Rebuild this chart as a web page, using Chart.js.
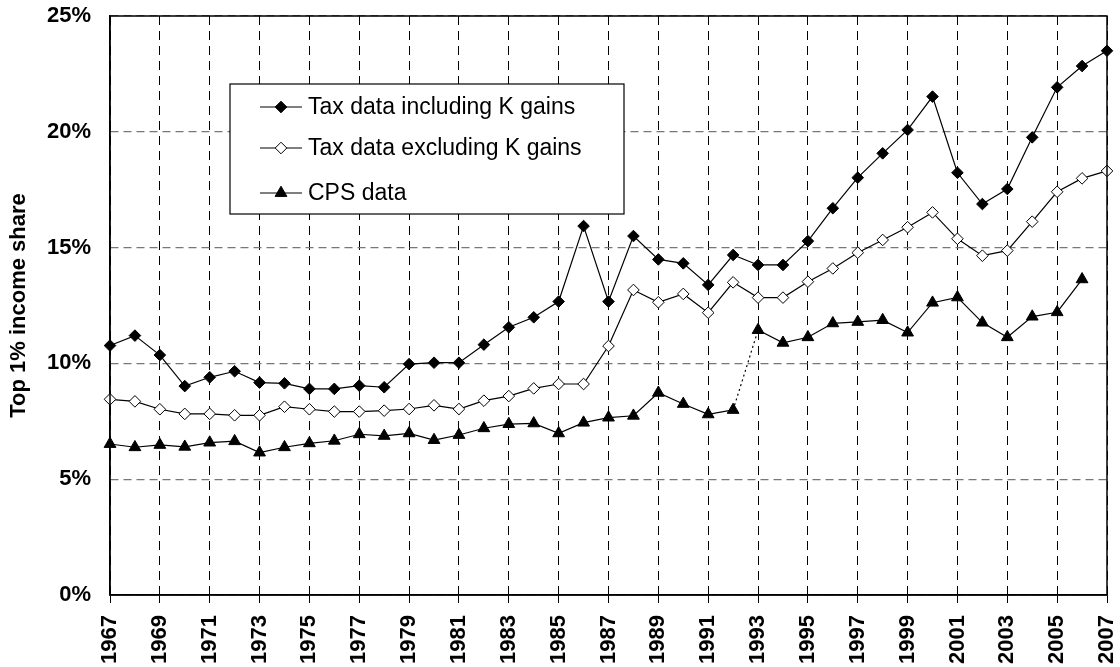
<!DOCTYPE html>
<html>
<head>
<meta charset="utf-8">
<script src="https://cdn.jsdelivr.net/npm/chart.js@4/dist/chart.umd.min.js"></script>
<style>
  html, body { margin: 0; padding: 0; background: #fff; }
  #grafico { display: block; }
</style>
</head>
<body>
<canvas id="grafico" width="1120" height="667"></canvas>
<script>
// datos
const years = [
  "1967", "1968", "1969", "1970", "1971", "1972", "1973", "1974", "1975", "1976",
  "1977", "1978", "1979", "1980", "1981", "1982", "1983", "1984", "1985", "1986",
  "1987", "1988", "1989", "1990", "1991", "1992", "1993", "1994", "1995", "1996",
  "1997", "1998", "1999", "2000", "2001", "2002", "2003", "2004", "2005", "2006",
  "2007"
];
const taxIncl = [
  10.77, 11.2, 10.36, 9.02, 9.4, 9.66, 9.17, 9.14, 8.9, 8.9,
  9.04, 8.97, 9.97, 10.03, 10.03, 10.81, 11.56, 11.99, 12.67, 15.93,
  12.67, 15.5, 14.49, 14.32, 13.39, 14.68, 14.25, 14.25, 15.28, 16.7,
  18.02, 19.07, 20.08, 21.52, 18.23, 16.88, 17.53, 19.76, 21.92, 22.84,
  23.5
];
const taxExcl = [
  8.45, 8.36, 8.02, 7.82, 7.82, 7.76, 7.76, 8.13, 8.02, 7.92,
  7.92, 7.96, 8.03, 8.19, 8.03, 8.39, 8.59, 8.92, 9.11, 9.11,
  10.75, 13.17, 12.64, 13.0, 12.19, 13.5, 12.84, 12.84, 13.53, 14.1,
  14.78, 15.33, 15.88, 16.52, 15.38, 14.65, 14.87, 16.12, 17.41, 17.99,
  18.31
];
const cps = [
  6.52, 6.38, 6.48, 6.4, 6.58, 6.64, 6.15, 6.38, 6.55, 6.66,
  6.94, 6.87, 6.98, 6.69, 6.91, 7.2, 7.38, 7.41, 6.98, 7.44,
  7.66, 7.74, 8.73, 8.25, 7.8, 7.99, 11.44, 10.89, 11.13, 11.73,
  11.79, 11.87, 11.33, 12.62, 12.85, 11.76, 11.13, 12.02, 12.21, 13.63,
  null
];
const seriesNames = ["Tax data including K gains", "Tax data excluding K gains", "CPS data"];
const yTicks = [0, 5, 10, 15, 20, 25];

// el punto donde cambia la serie CPS (1992 -> 1993) va punteado
const cpsBreak = years.indexOf("1992");

Chart.defaults.font.family = "'Liberation Sans', Arial, sans-serif";
Chart.defaults.color = "#000";

// marco alrededor del area del grafico
const marco = {
  id: "marco",
  afterDatasetsDraw(chart) {
    const { ctx, chartArea: a } = chart;
    ctx.save();
    ctx.strokeStyle = "#000";
    ctx.lineWidth = 1.5;
    ctx.strokeRect(a.left, a.top, a.right - a.left, a.bottom - a.top);
    ctx.restore();
  }
};

// leyenda dentro del area, en columna
const leyenda = {
  id: "leyenda",
  afterDraw(chart) {
    const { ctx, chartArea: a } = chart;
    const x0 = a.left + 120, y0 = a.top + 68;
    const w = 394, h = 130;
    ctx.save();
    ctx.fillStyle = "#fff";
    ctx.fillRect(x0, y0, w, h);
    ctx.strokeStyle = "#000";
    ctx.lineWidth = 1.2;
    ctx.strokeRect(x0, y0, w, h);

    const filas = [23, 64, 109];
    chart.data.datasets.forEach((ds, i) => {
      const y = y0 + filas[i];
      ctx.strokeStyle = "#000";
      ctx.lineWidth = 1.2;
      ctx.beginPath();
      ctx.moveTo(x0 + 30, y);
      ctx.lineTo(x0 + 72, y);
      ctx.stroke();
      ctx.fillStyle = ds.pointBackgroundColor;
      ctx.strokeStyle = ds.pointBorderColor;
      ctx.lineWidth = 1;
      Chart.helpers.drawPoint(ctx, {
        pointStyle: ds.pointStyle,
        radius: ds.pointRadius,
        rotation: 0,
        borderWidth: 1
      }, x0 + 51, y);
      ctx.fillStyle = "#000";
      ctx.font = "23px 'Liberation Sans', Arial, sans-serif";
      ctx.textBaseline = "middle";
      ctx.textAlign = "left";
      ctx.fillText(ds.label, x0 + 78, y + 1);
    });
    ctx.restore();
  }
};

const ctx = document.getElementById("grafico").getContext("2d");

new Chart(ctx, {
  type: "line",
  data: {
    labels: years,
    datasets: [
      {
        label: seriesNames[0],
        data: taxIncl,
        borderColor: "#000",
        borderWidth: 1.2,
        pointStyle: "rectRot",
        pointRadius: 5.8,
        pointBackgroundColor: "#000",
        pointBorderColor: "#000",
        pointBorderWidth: 1,
        tension: 0
      },
      {
        label: seriesNames[1],
        data: taxExcl,
        borderColor: "#000",
        borderWidth: 1.2,
        pointStyle: "rectRot",
        pointRadius: 5.8,
        pointBackgroundColor: "#fff",
        pointBorderColor: "#000",
        pointBorderWidth: 1,
        tension: 0
      },
      {
        label: seriesNames[2],
        data: cps,
        borderColor: "#000",
        borderWidth: 1.2,
        pointStyle: "triangle",
        pointRadius: 6.8,
        pointBackgroundColor: "#000",
        pointBorderColor: "#000",
        pointBorderWidth: 1,
        tension: 0,
        segment: {
          borderDash: c => c.p0DataIndex === cpsBreak ? [2, 3] : undefined
        }
      }
    ]
  },
  options: {
    responsive: false,
    animation: false,
    layout: { padding: { left: 0, top: 16, right: 13, bottom: 0 } },
    plugins: {
      legend: { display: false },
      tooltip: { enabled: false }
    },
    scales: {
      x: {
        type: "category",
        offset: false,
        afterFit: scale => {
          scale.height = 72;
          scale.paddingLeft = 0;
          scale.paddingRight = 0;
        },
        grid: {
          color: c => c.index % 2 === 0 ? "#000" : "rgba(0,0,0,0)",
          lineWidth: 1,
          tickLength: 8,
          borderDash: [9, 6]
        },
        border: { display: true, color: "#000", width: 1.5, dash: [9, 6] },
        ticks: {
          autoSkip: false,
          maxRotation: 90,
          minRotation: 90,
          padding: 12,
          font: { size: 22, weight: "bold" },
          callback: function (v, i) {
            return i % 2 === 0 ? this.getLabelForValue(v) : "";
          }
        }
      },
      y: {
        min: 0,
        max: 25,
        afterFit: scale => {
          scale.width = 110;
          scale.paddingTop = 0;
          scale.paddingBottom = 0;
        },
        afterBuildTicks: scale => { scale.ticks = yTicks.map(v => ({ value: v })); },
        grid: {
          color: "#777",
          lineWidth: 1.2,
          drawTicks: false,
          borderDash: [8, 5]
        },
        border: { display: true, color: "#000", width: 1.5, dash: [8, 5] },
        ticks: {
          padding: 19,
          font: { size: 22, weight: "bold" },
          callback: v => v + "%"
        },
        title: {
          display: true,
          text: "Top 1% income share",
          font: { size: 22, weight: "bold" },
          padding: { top: 6, bottom: 0 }
        }
      }
    }
  },
  plugins: [marco, leyenda]
});
</script>
</body>
</html>
